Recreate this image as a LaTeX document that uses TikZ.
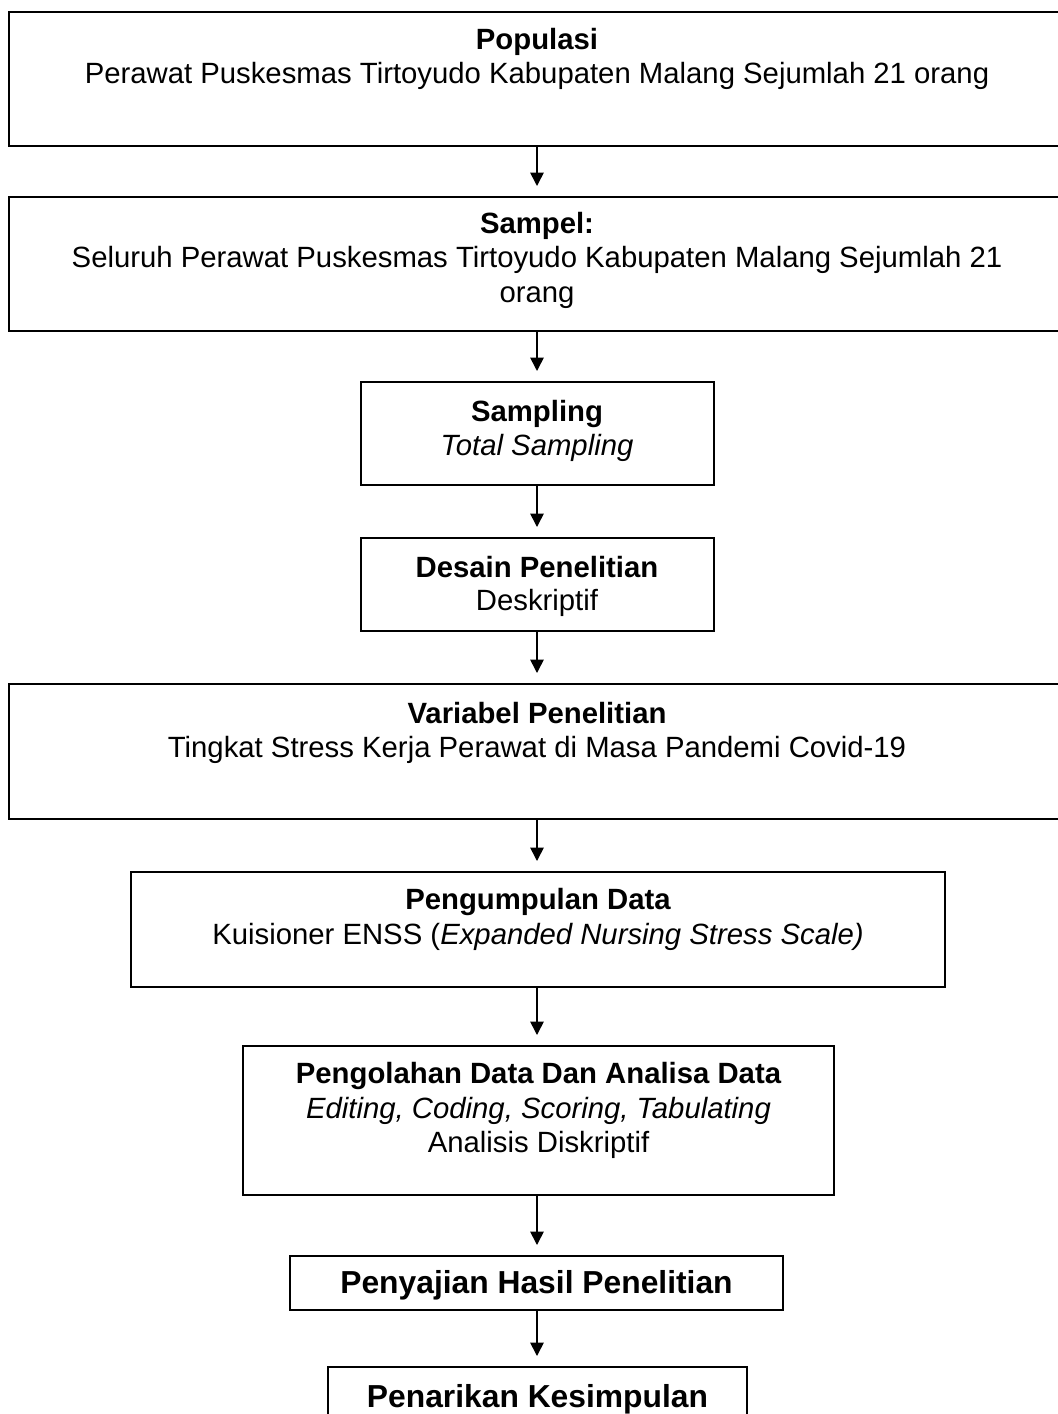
\documentclass[tikz,border=0pt]{standalone}
\usepackage{fontspec}
\setmainfont{Liberation Sans}
\usetikzlibrary{arrows.meta}
\begin{document}
\begin{tikzpicture}[x=0.4pt,y=-0.4pt,
  box/.style={draw, line width=0.8pt, rectangle, inner sep=0pt},
  txt/.style={anchor=base, inner sep=0pt, font=\fontsize{11.72pt}{13.8pt}\selectfont},
  hd/.style={txt, font=\fontsize{11.72pt}{13.8pt}\selectfont\bfseries},
  big/.style={anchor=base, inner sep=0pt, font=\fontsize{12.72pt}{15pt}\selectfont\bfseries},
  conn/.style={line width=0.65pt, -{Triangle[length=5.4pt,width=5.4pt]}, shorten >=4pt}]
\useasboundingbox (0,0) rectangle (1058,1414);
% boxes
\node[box, minimum width=422.4pt, minimum height=53.6pt] (pop) at (537,79) {};
\node[box, minimum width=422.4pt, minimum height=53.6pt] (sam) at (537,264) {};
\node[box, minimum width=141.2pt, minimum height=41.2pt] (smp) at (537,433.5) {};
\node[box, minimum width=141.2pt, minimum height=37.2pt] (des) at (537,584.5) {};
\node[box, minimum width=422.4pt, minimum height=54pt] (var) at (537,751.5) {};
\node[box, minimum width=325.6pt, minimum height=46pt] (pgp) at (538,929.5) {};
\node[box, minimum width=236.4pt, minimum height=59.6pt] (pgl) at (538.5,1120.5) {};
\node[box, minimum width=197.2pt, minimum height=21.6pt] (pny) at (536.5,1283) {};
\node[box, minimum width=167.6pt, minimum height=25.2pt] (pnr) at (537.5,1398.5) {};
% texts
\node[hd] (pop1) at (537,49) {Populasi};
\node[txt] (pop2) at (537,83) {Perawat Puskesmas Tirtoyudo Kabupaten Malang Sejumlah 21 orang};
\node[hd] (sam1) at (537,233) {Sampel:};
\node[txt] (sam2) at (537,267) {Seluruh Perawat Puskesmas Tirtoyudo Kabupaten Malang Sejumlah 21};
\node[txt] (sam3) at (537,302) {orang};
\node[hd] (smp1) at (537,421) {Sampling};
\node[txt] (smp2) at (537,455) {\itshape Total Sampling};
\node[hd] (des1) at (537,577) {Desain Penelitian};
\node[txt] (des2) at (537,610) {Deskriptif};
\node[hd] (var1) at (537,723) {Variabel Penelitian};
\node[txt] (var2) at (537,757) {Tingkat Stress Kerja Perawat di Masa Pandemi Covid-19};
\node[hd] (pgp1) at (538,909) {Pengumpulan Data};
\node[txt] (pgp2) at (538,944) {Kuisioner ENSS (\textit{Expanded Nursing Stress Scale)}};
\node[hd] (pgl1) at (538.5,1083) {Pengolahan Data Dan Analisa Data};
\node[txt] (pgl2) at (538.5,1118) {\itshape Editing, Coding, Scoring, Tabulating};
\node[txt] (pgl3) at (538.5,1152) {Analisis Diskriptif};
\node[big] (pny1) at (536.5,1293) {Penyajian Hasil Penelitian};
\node[big] (pnr1) at (537.5,1407) {Penarikan Kesimpulan};
% connectors (common axis x = 537)
\coordinate (axis) at (537,0);
\draw[conn] (axis |- pop.south) -- (axis |- sam.north);
\draw[conn] (axis |- sam.south) -- (axis |- smp.north);
\draw[conn] (axis |- smp.south) -- (axis |- des.north);
\draw[conn] (axis |- des.south) -- (axis |- var.north);
\draw[conn] (axis |- var.south) -- (axis |- pgp.north);
\draw[conn] (axis |- pgp.south) -- (axis |- pgl.north);
\draw[conn] (axis |- pgl.south) -- (axis |- pny.north);
\draw[conn] (axis |- pny.south) -- (axis |- pnr.north);
\end{tikzpicture}
\end{document}
